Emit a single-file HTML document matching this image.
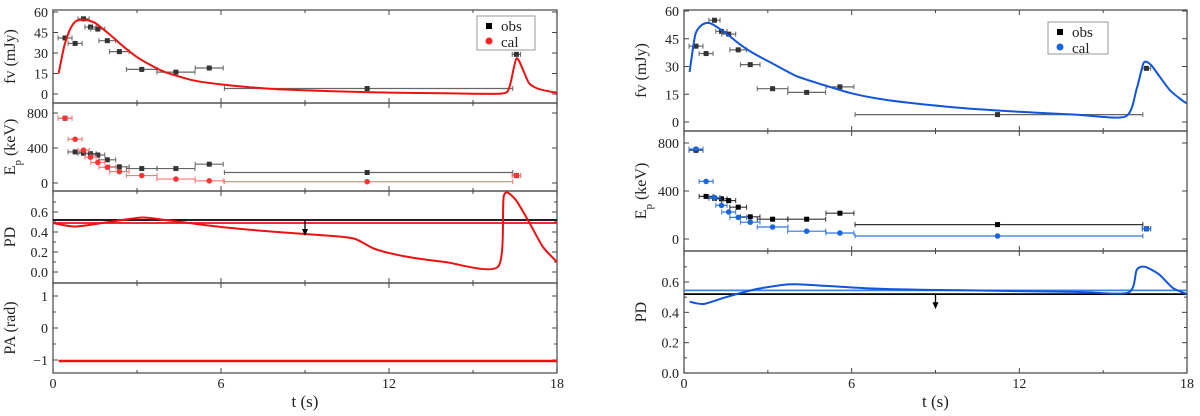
<!DOCTYPE html>
<html><head><meta charset="utf-8"><style>
html,body{margin:0;padding:0;background:#fff;}
svg{display:block;font-family:"Liberation Serif","Noto Serif CJK SC",serif;}
</style></head><body>
<svg id="chart" width="1200" height="416" viewBox="0 0 1200 416" xmlns="http://www.w3.org/2000/svg"></svg>
<script>
// ---------- data ----------
const obsT    = [0.43,0.79,1.09,1.34,1.6,1.94,2.37,3.17,4.39,5.58,11.22,16.55];
const obsTlo  = [0.25,0.25,0.2,0.2,0.25,0.3,0.35,0.55,0.68,0.5,5.1,0.15];
const obsThi  = [0.25,0.25,0.2,0.2,0.25,0.3,0.35,0.55,0.68,0.5,5.2,0.15];
const obsFlux = [41,37,55,49,47.5,39,31,18,16,19,4,29];
const obsEp   = [740,355,340,335,320,265,185,165,165,215,120,85];
const calEpL  = [740,500,375,295,235,180,130,85,45,25,15,85];
const calEpR  = [750,480,345,280,225,180,140,100,65,50,25,85];
const fluxCurveLT = [0.2,0.4,0.6,0.8,1.1,1.5,2.0,2.5,3.0,3.5,4.0,5.0,6.0,7.0,8.0,10,12,14,16,16.3,16.55,16.8,17.0,17.3,17.7,18];
const fluxCurveL  = [15,35,47,53,54.5,52,44,35,27,21,16,10,7,5,3.5,2,1,0.5,0.3,5,26,17,8,4,2,1];
const fluxCurveRT = [0.2,0.4,0.6,0.8,1.0,1.5,2,2.5,3,4,5,6,7,8,10,12,14,15.8,16.2,16.45,16.7,17,17.4,17.8,18];
const fluxCurveR  = [27,47,52,53.5,53,48,42,37,33,25,20,15.5,12.5,10.5,7.5,5.5,4,3,18,32,31,25,17,12,10];
const pdCurveLT = [0,0.8,2,3.2,4,6,8,10,10.8,11.5,12.5,14,15.9,16.1,16.5,17,17.5,18];
const pdCurveL  = [0.49,0.455,0.5,0.545,0.52,0.45,0.40,0.36,0.33,0.23,0.16,0.1,0.055,0.76,0.73,0.5,0.25,0.1];
const pdCurveRT = [0.2,0.7,1.5,2.5,3.5,4,5,7,10,14,15.9,16.2,16.5,17,17.5,18];
const pdCurveR  = [0.47,0.455,0.5,0.55,0.58,0.585,0.575,0.555,0.545,0.535,0.53,0.68,0.70,0.65,0.56,0.52];
const paCurveT = [0.2,18];
const paCurveL = [-1.03,-1.03];
const pdObsLimit = 0.52, pdCalLineL = 0.49, pdCalLineR = 0.545, arrowT = 9;
const xTicks = [0,6,12,18];

const NS="http://www.w3.org/2000/svg";
const svg=document.getElementById('chart');
function el(tag,attrs,parent){const e=document.createElementNS(NS,tag);for(const k in attrs)e.setAttribute(k,attrs[k]);(parent||svg).appendChild(e);return e;}

function makePanel(o){
  const g=el('g',{});
  
  
  const xs=t=>o.x0+(o.x1-o.x0)*t/18;
  const ys=v=>o.yA+(o.yB-o.yA)*(v-o.vA)/(o.vB-o.vA);
  const r=el('rect',{x:o.x0,y:o.top,width:o.x1-o.x0,height:o.bot-o.top,fill:'none',stroke:'#555','stroke-width':1.3},g);
  
  
  for(let t=0;t<=18;t+=3){const X=xs(t);const L=(t%6===0)?5:3;
    el('line',{x1:X,x2:X,y1:o.bot,y2:o.bot-L,stroke:'#444'},g);
    el('line',{x1:X,x2:X,y1:o.top,y2:o.top+L,stroke:'#444'},g);}
  o.yTicks.forEach((v,i)=>{const Y=ys(v);
    el('line',{x1:o.x0,x2:o.x0+5,y1:Y,y2:Y,stroke:'#444'},g);
    el('line',{x1:o.x1,x2:o.x1-5,y1:Y,y2:Y,stroke:'#444'},g);
    const tx=el('text',{x:o.x0-5,y:Y+5,'font-size':14,'text-anchor':'end',fill:'#222'},g);
    tx.textContent=o.yLabels[i];
    
    });
  (o.minor||[]).forEach(v=>{const Y=ys(v);
    el('line',{x1:o.x0,x2:o.x0+3,y1:Y,y2:Y,stroke:'#444'},g);
    el('line',{x1:o.x1,x2:o.x1-3,y1:Y,y2:Y,stroke:'#444'},g);});
  const cy=(o.top+o.bot)/2, lx=o.x0-38;
  const lab=el('text',{x:lx,y:cy,'font-size':16,'text-anchor':'middle',fill:'#222',transform:`rotate(-90 ${lx} ${cy})`},g);
  lab.innerHTML=o.ylabel;
  
  
  return {g,xs,ys};
}
function curve(p,T,V,color,name,w){
  const P=T.map((t,i)=>[p.xs(t),p.ys(V[i])]);
  let d='M'+P[0][0].toFixed(1)+','+P[0][1].toFixed(1);
  for(let i=0;i<P.length-1;i++){
    const p0=P[Math.max(0,i-1)],p1=P[i],p2=P[i+1],p3=P[Math.min(P.length-1,i+2)];
    const k=0.12;
    const c1=[p1[0]+(p2[0]-p0[0])*k,p1[1]+(p2[1]-p0[1])*k];
    const c2=[p2[0]-(p3[0]-p1[0])*k,p2[1]-(p3[1]-p1[1])*k];
    d+=` C${c1[0].toFixed(1)},${c1[1].toFixed(1)} ${c2[0].toFixed(1)},${c2[1].toFixed(1)} ${p2[0].toFixed(1)},${p2[1].toFixed(1)}`;
  }
  const e=el('path',{d,fill:'none',stroke:color,'stroke-width':w||2,'stroke-linejoin':'round'},p.g);
  
  
}
function points(p,T,lo,hi,V,color,errColor,shape,name){
  T.forEach((t,i)=>{const X=p.xs(t),Y=p.ys(V[i]);
    const gg=el('g',{},p.g);
    
    
    const xa=p.xs(t-lo[i]),xb=p.xs(t+hi[i]);
    el('line',{x1:xa,x2:xb,y1:Y,y2:Y,stroke:errColor,'stroke-width':1.2},gg);
    el('line',{x1:xa,x2:xa,y1:Y-2.5,y2:Y+2.5,stroke:errColor},gg);
    el('line',{x1:xb,x2:xb,y1:Y-2.5,y2:Y+2.5,stroke:errColor},gg);
    if(shape==='sq')el('rect',{x:X-2.5,y:Y-2.5,width:5,height:5,fill:color},gg);
    else el('circle',{cx:X,cy:Y,r:2.8,fill:color},gg);});
}
function hline(p,v,color,name){
  const e=el('line',{x1:p.xs(0),x2:p.xs(18),y1:p.ys(v),y2:p.ys(v),stroke:color,'stroke-width':1.8},p.g);
  
  
}
function arrow(p,t,v1,v2){
  const X=p.xs(t),a=p.ys(v1),b=p.ys(v2);
  const g=el('g',{},p.g);
  
  
  el('line',{x1:X,x2:X,y1:a,y2:b-5,stroke:'#000','stroke-width':1.3},g);
  el('path',{d:`M${X-3},${b-7} L${X+3},${b-7} L${X},${b} Z`,fill:'#000'},g);
}
function legend(x,y,w,h,color,name){
  const g=el('g',{});
  
  
  el('rect',{x,y,width:w,height:h,fill:'#fff',stroke:'#999'},g);
  el('rect',{x:x+9,y:y+7,width:6,height:6,fill:'#000'},g);
  el('circle',{cx:x+12,cy:y+25,r:3.5,fill:color},g);
  const a=el('text',{x:x+24,y:y+15,'font-size':15,fill:'#222'},g);a.textContent='obs';
  
  
  const b=el('text',{x:x+24,y:y+31,'font-size':15,fill:'#222'},g);b.textContent='cal';
  
  
}
function xAxis(x0,x1,y,title){
  xTicks.forEach(t=>{const tx=el('text',{x:x0+(x1-x0)*t/18,y:y+15,'font-size':14,'text-anchor':'middle',fill:'#222'});
    tx.textContent=t;
    
    });
  const tt=el('text',{x:(x0+x1)/2,y:y+34,'font-size':17,'text-anchor':'middle',fill:'#222'});
  tt.textContent=title;
  
  
}
const RED='#ee1111', BLUE='#1155dd';
const LX0=53, LX1=557;
const L1=makePanel({name:'left-flux-panel',x0:LX0,x1:LX1,top:10,bot:103,yA:94,yB:12,vA:0,vB:60,yTicks:[0,15,30,45,60],yLabels:['0','15','30','45','60'],ylabel:'fv (mJy)'});
points(L1,obsT,obsTlo,obsThi,obsFlux,'#333','#666','sq','obs-flux-point');
curve(L1,fluxCurveLT,fluxCurveL,RED,'cal-flux-curve');
legend(477,16,58,34,'#ff2222','left-legend');
const L2=makePanel({name:'left-ep-panel',x0:LX0,x1:LX1,top:103,bot:191,yA:183,yB:113,vA:0,vB:800,yTicks:[0,400,800],yLabels:['0','400','800'],ylabel:'E<tspan baseline-shift="sub" font-size="11">p</tspan> (keV)'});
points(L2,obsT,obsTlo,obsThi,obsEp,'#333','#666','sq','obs-ep-point');
points(L2,obsT,obsTlo,obsThi,calEpL,'#ff3333','#ff7777','c','cal-ep-point');
const L3=makePanel({name:'left-pd-panel',x0:LX0,x1:LX1,top:191,bot:283,yA:272,yB:212,vA:0,vB:0.6,yTicks:[0,0.2,0.4,0.6],yLabels:['0.0','0.2','0.4','0.6'],minor:[0.1,0.3,0.5,0.7],ylabel:'PD'});
hline(L3,pdObsLimit,'#000','obs-pd-limit-line');
hline(L3,pdCalLineL,RED,'cal-pd-line');
curve(L3,pdCurveLT,pdCurveL,RED,'cal-pd-curve');
arrow(L3,arrowT,pdObsLimit,0.36);
const L4=makePanel({name:'left-pa-panel',x0:LX0,x1:LX1,top:283,bot:373,yA:328,yB:296,vA:0,vB:1,yTicks:[-1,0,1],yLabels:['−1','0','1'],minor:[-0.5,0.5],ylabel:'PA (rad)'});
curve(L4,paCurveT,paCurveL,RED,'cal-pa-curve',2.5);
xAxis(LX0,LX1,373,'t (s)');
const RX0=684, RX1=1187;
const R1=makePanel({name:'right-flux-panel',x0:RX0,x1:RX1,top:10,bot:131,yA:122,yB:11,vA:0,vB:60,yTicks:[0,15,30,45,60],yLabels:['0','15','30','45','60'],ylabel:'fv (mJy)'});
points(R1,obsT,obsTlo,obsThi,obsFlux,'#333','#666','sq','obs-flux-point');
curve(R1,fluxCurveRT,fluxCurveR,BLUE,'cal-flux-curve');
legend(1048,22,60,32,'#1a66dd','right-legend');
const R2=makePanel({name:'right-ep-panel',x0:RX0,x1:RX1,top:131,bot:251,yA:239,yB:143,vA:0,vB:800,yTicks:[0,400,800],yLabels:['0','400','800'],ylabel:'E<tspan baseline-shift="sub" font-size="11">p</tspan> (keV)'});
points(R2,obsT,obsTlo,obsThi,obsEp,'#000','#333','sq','obs-ep-point');
points(R2,obsT,obsTlo,obsThi,calEpR,'#1a66dd','#3377dd','c','cal-ep-point');
const R3=makePanel({name:'right-pd-panel',x0:RX0,x1:RX1,top:251,bot:373,yA:373,yB:282,vA:0,vB:0.6,yTicks:[0,0.2,0.4,0.6],yLabels:['0.0','0.2','0.4','0.6'],minor:[0.1,0.3,0.5,0.7],ylabel:'PD'});
hline(R3,pdCalLineR,'#3388ee','cal-pd-line');
hline(R3,pdObsLimit,'#000','obs-pd-limit-line');
curve(R3,pdCurveRT,pdCurveR,BLUE,'cal-pd-curve');
arrow(R3,arrowT,pdObsLimit,0.42);
xAxis(RX0,RX1,373,'t  (s)');
</script>
</body></html>
